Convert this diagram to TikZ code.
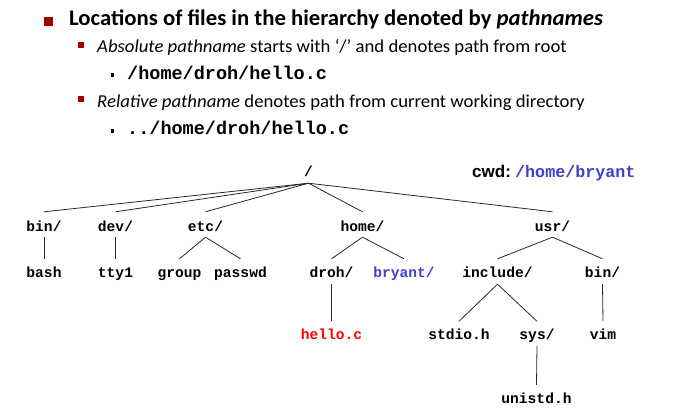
\documentclass[tikz,border=0pt]{standalone}
\usepackage{fontspec}
\setmainfont{Carlito}
\newfontfamily\codefont{Liberation Mono}
\newfontfamily\arialfont{Liberation Sans}
\definecolor{bulletred}{RGB}{160,0,0}
\definecolor{cwdblue}{RGB}{64,64,200}
\definecolor{filered}{RGB}{255,0,0}
\definecolor{linegray}{RGB}{40,40,40}
\begin{document}
\begin{tikzpicture}[x=1pt,y=-1pt,
  title/.style={anchor=base west,inner sep=0pt,font=\fontsize{22.3}{24}\selectfont\bfseries},
  subtext/.style={anchor=base west,inner sep=0pt,font=\fontsize{18.2}{20}\selectfont},
  codetext/.style={anchor=base west,inner sep=0pt,font=\fontsize{18.5}{21}\selectfont\codefont\bfseries},
  bigbullet/.style={fill=bulletred,inner sep=0pt,minimum width=9pt,minimum height=9pt},
  midbullet/.style={fill=bulletred,inner sep=0pt,minimum width=6pt,minimum height=6pt},
  smallbullet/.style={fill=black,inner sep=0pt,minimum width=3.5pt,minimum height=4pt},
  tnode/.style={anchor=base,inner sep=0pt,text height=19pt,text depth=6pt,font=\fontsize{14.6}{17}\selectfont\codefont\bfseries},
  edge/.style={draw=linegray,line width=0.8pt}]
\useasboundingbox (0,0) rectangle (678,412);
\fill[white] (0,0) rectangle (678,412);

% header bullets
\node[bigbullet] (b1) at (48.5,21.5) {};
\node[midbullet] (b2) at (81,45) {};
\node[smallbullet] (b3) at (112.5,75) {};
\node[midbullet] (b4) at (81,99.5) {};
\node[smallbullet] (b5) at (112.5,131) {};

\node[title] (t1) at (69,26) {\scalebox{1.02}[1]{Locations of files in the hierarchy denoted by \textit{pathnames}}};
\node[subtext] (t2) at (97,53) {\scalebox{1.03}[1]{\textit{Absolute pathname} starts with ‘/’ and denotes path from root}};
\node[codetext] (t3) at (127,80) {/home/droh/hello.c};
\node[subtext] (t4) at (97,107) {\scalebox{1.03}[1]{\textit{Relative pathname} denotes path from current working directory}};
\node[codetext] (t5) at (127,135) {../home/droh/hello.c};

% cwd
\node[anchor=base west,inner sep=0pt,font=\fontsize{17}{20}\selectfont\arialfont\bfseries] (cwd) at (472,177) {cwd:};
\node[anchor=base west,inner sep=0pt,text=cwdblue,font=\fontsize{16.7}{20}\selectfont\codefont\bfseries] (cwdpath) at (515,177) {/home/bryant};

% tree
\node[tnode,text depth=7pt] (root) at (308.5,176) {/};
\node[tnode] (bin) at (44,231) {bin/};
\node[tnode] (dev) at (115.5,231) {dev/};
\node[tnode] (etc) at (205.5,231) {etc/};
\node[tnode] (home) at (362.5,231) {home/};
\node[tnode] (usr) at (552.5,231) {usr/};

\node[tnode,text height=18pt,text depth=7pt] (bash) at (44,277) {bash};
\node[tnode,text height=18pt,text depth=7pt] (tty) at (115.5,277) {tty1};
\node[tnode,text height=18pt,text depth=7pt] (group) at (179.5,277) {group};
\node[tnode,text height=18pt,text depth=7pt] (passwd) at (240.5,277) {passwd};
\node[tnode,text height=18pt,text depth=7pt] (droh) at (331.5,277) {droh/};
\node[tnode,text height=18pt,text depth=7pt,text=cwdblue] (bryant) at (404,277) {bryant/};
\node[tnode,text height=18pt,text depth=7pt] (include) at (497.5,277) {include/};
\node[tnode,text height=18pt,text depth=7pt] (bin2) at (602.5,277) {bin/};

\node[tnode,text height=17.5pt,text depth=7pt,text=filered] (hello) at (331.5,339) {hello.c};
\node[tnode,text height=17.5pt,text depth=7pt] (stdio) at (459,339) {stdio.h};
\node[tnode,text height=17.5pt,text depth=7pt] (sys) at (537,339) {sys/};
\node[tnode,text height=17.5pt,text depth=7pt] (vim) at (603,339) {vim};

\node[tnode,text height=18pt] (unistd) at (536.5,403) {unistd.h};

\draw[edge] (root.south) -- (bin.north);
\draw[edge] (root.south) -- (dev.north);
\draw[edge] (root.south) -- (etc.north);
\draw[edge] (root.south) -- (home.north);
\draw[edge] (root.south) -- (usr.north);

\draw[edge] (bin.south) -- (bash.north);
\draw[edge] (dev.south) -- (tty.north);
\draw[edge] (etc.south) -- (group.north);
\draw[edge] (etc.south) -- (passwd.north);
\draw[edge] (home.south) -- (droh.north);
\draw[edge] (home.south) -- (bryant.north);
\draw[edge] (usr.south) -- (include.north);
\draw[edge] (usr.south) -- (bin2.north);

\draw[edge] (droh.south) -- (hello.north);
\draw[edge] (include.south) -- (stdio.north);
\draw[edge] (include.south) -- (sys.north);
\draw[edge] (bin2.south) -- (vim.north);

\draw[edge] (sys.south) -- (unistd.north);
\end{tikzpicture}
\end{document}
